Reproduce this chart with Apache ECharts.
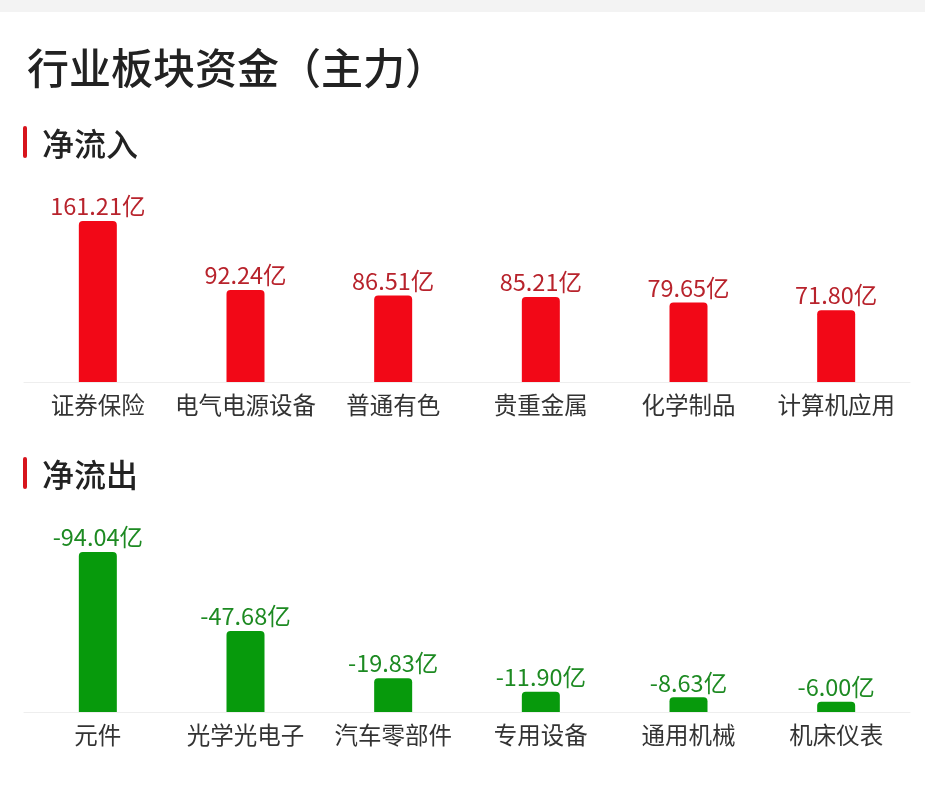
<!DOCTYPE html>
<html>
<head>
<meta charset="utf-8">
<script src="https://cdn.jsdelivr.net/npm/echarts@6/dist/echarts.min.js"></script>
<style>
  html, body { margin: 0; padding: 0; background: #fff; }
  #main { width: 925px; height: 787px; }
</style>
</head>
<body>
<div id="main"></div>
<script>
// Données : flux nets par secteur (en 亿)
const inflowNames = ['证券保险', '电气电源设备', '普通有色', '贵重金属', '化学制品', '计算机应用'];
const inflowValues = [161.21, 92.24, 86.51, 85.21, 79.65, 71.80];
const outflowNames = ['元件', '光学光电子', '汽车零部件', '专用设备', '通用机械', '机床仪表'];
const outflowValues = [-94.04, -47.68, -19.83, -11.90, -8.63, -6.00];

const FONT = '"Noto Sans CJK SC", "Noto Sans", sans-serif';

const chart = echarts.init(document.getElementById('main'));

function sectionMarker(y) {
    return {
        type: 'rect',
        left: 23, top: y,
        shape: { width: 4, height: 32, r: 2 },
        style: { fill: '#d7141c' }
    };
}

function axisLabelStyle() {
    return { fontFamily: FONT, fontSize: 23.5, color: '#333', margin: 11, interval: 0 };
}

const option = {
    backgroundColor: '#fff',
    animation: false,
    graphic: [
        { type: 'rect', left: 0, top: 0, shape: { width: 925, height: 12 }, style: { fill: '#f3f3f3' } },
        sectionMarker(126),
        sectionMarker(457)
    ],
    title: [
        { text: '行业板块资金（主力）', left: 22, top: 42, textStyle: { fontFamily: FONT, fontSize: 42, fontWeight: 500, color: '#222' } },
        { text: '净流入', left: 37, top: 123, textStyle: { fontFamily: FONT, fontSize: 32, fontWeight: 500, color: '#222' } },
        { text: '净流出', left: 37, top: 454, textStyle: { fontFamily: FONT, fontSize: 32, fontWeight: 500, color: '#222' } }
    ],
    grid: [
        { left: 24, right: 15, top: 221, height: 161 },
        { left: 24, right: 15, top: 552, height: 160 }
    ],
    xAxis: [
        {
            type: 'category', gridIndex: 0, data: inflowNames,
            axisLine: { lineStyle: { color: '#eeeeee' } },
            axisTick: { show: false },
            axisLabel: axisLabelStyle()
        },
        {
            type: 'category', gridIndex: 1, data: outflowNames,
            axisLine: { lineStyle: { color: '#eeeeee' } },
            axisTick: { show: false },
            axisLabel: axisLabelStyle()
        }
    ],
    yAxis: [
        { type: 'value', gridIndex: 0, min: 0, max: 'dataMax', show: false },
        // axe inversé : les valeurs négatives montent depuis la ligne de base
        { type: 'value', gridIndex: 1, min: 'dataMin', max: 0, inverse: true, show: false }
    ],
    series: [
        {
            type: 'bar', xAxisIndex: 0, yAxisIndex: 0,
            data: inflowValues,
            barWidth: 38,
            itemStyle: { color: '#f20817', borderRadius: [4, 4, 0, 0] },
            label: {
                show: true, position: 'top', distance: 3,
                fontFamily: FONT, fontSize: 23.5, color: '#b8232c',
                formatter: p => p.value.toFixed(2) + '亿'
            }
        },
        {
            type: 'bar', xAxisIndex: 1, yAxisIndex: 1,
            data: outflowValues,
            barWidth: 38,
            itemStyle: { color: '#079a0c', borderRadius: [4, 4, 0, 0] },
            label: {
                show: true, position: 'top', distance: 3,
                fontFamily: FONT, fontSize: 23.5, color: '#1d8a22',
                formatter: p => p.value.toFixed(2) + '亿'
            }
        }
    ]
};

chart.setOption(option);
</script>
</body>
</html>
